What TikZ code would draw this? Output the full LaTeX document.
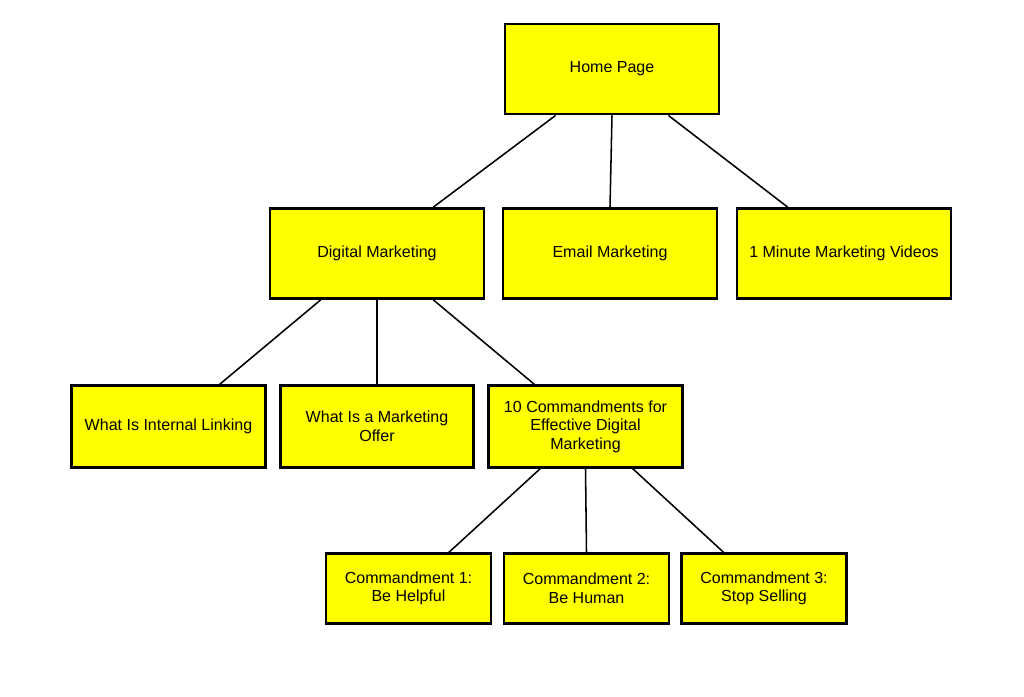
\documentclass[tikz,border=0pt]{standalone}
\usepackage{fontspec}
\setmainfont{Liberation Sans}
\usepackage{xcolor}
\usetikzlibrary{calc}
\definecolor{PageYellow}{RGB}{255,255,0}

\begin{document}
\begin{tikzpicture}[x=0.025cm, y=-0.025cm,
  page/.style={draw=black, line width=2pt, fill=PageYellow, align=center,
    inner sep=2pt, font=\fontsize{11.4}{13.2}\selectfont},
  bigpage/.style={page, minimum width=5.35cm, minimum height=2.25cm},
  midpage/.style={page, minimum width=4.83cm, minimum height=2.03cm},
  smallpage/.style={page, minimum width=4.12cm, minimum height=1.73cm},
  link/.style={line width=1.1pt}]
\useasboundingbox (0,0) rectangle (1024,696);

% Top level
\node[bigpage] (home) at (612,69) {Home Page};

% Second level
\node[bigpage] (digital) at (377,253.5) {Digital Marketing};
\node[bigpage] (email) at (610,253.5) {Email Marketing};
\node[bigpage] (videos) at (844,253.5) {1 Minute Marketing Videos};

% Third level
\node[midpage] (linking) at (168.5,426.5) {What Is Internal Linking};
\node[midpage] (offer) at (377,426.5) {What Is a Marketing\\Offer};
\node[midpage] (tencmd) at (585.5,426.5) {10 Commandments for\\Effective Digital\\Marketing};

% Fourth level
\node[smallpage] (cmdone) at (408.5,588.5) {Commandment 1:\\Be Helpful};
\node[smallpage] (cmdtwo) at (586.5,588.5) {Commandment 2:\\Be Human};
\node[smallpage] (cmdthree) at (764,588.5) {Commandment 3:\\Stop Selling};

% Links
\draw[link] ($(home.south west)!0.24!(home.south east)$) -- ($(digital.north west)!0.76!(digital.north east)$);
\draw[link] (home.south) -- (email.north);
\draw[link] ($(home.south west)!0.76!(home.south east)$) -- ($(videos.north west)!0.24!(videos.north east)$);

\draw[link] ($(digital.south west)!0.24!(digital.south east)$) -- ($(linking.north west)!0.76!(linking.north east)$);
\draw[link] (digital.south) -- (offer.north);
\draw[link] ($(digital.south west)!0.76!(digital.south east)$) -- ($(tencmd.north west)!0.24!(tencmd.north east)$);

\draw[link] ($(tencmd.south west)!0.27!(tencmd.south east)$) -- ($(cmdone.north west)!0.74!(cmdone.north east)$);
\draw[link] (tencmd.south) -- (cmdtwo.north);
\draw[link] ($(tencmd.south west)!0.74!(tencmd.south east)$) -- ($(cmdthree.north west)!0.26!(cmdthree.north east)$);

\end{tikzpicture}
\end{document}
